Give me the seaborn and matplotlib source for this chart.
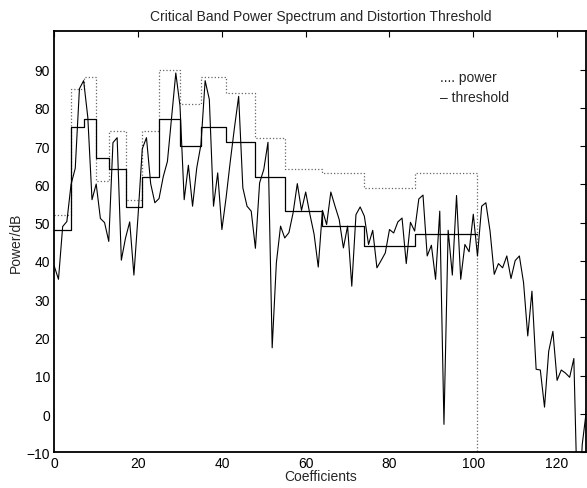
import matplotlib
matplotlib.use("Agg")
import matplotlib.pyplot as plt
import pandas as pd
import seaborn as sns

# spectrum power per coefficient (dB)
spectrum = [38.6, 35.2, 49, 50.3, 60, 64.2, 85, 87.1, 77.5, 56,
            60.1, 51.1, 50, 45.1, 70.9, 72.2, 40.2, 46, 50.2, 36.3,
            52, 69.3, 72.2, 60.2, 55.2, 56.3, 62, 66, 77.5, 89.1,
            80.5, 56, 65, 54.3, 64.3, 70.4, 87.1, 82.2, 54.3, 63,
            48.2, 56.5, 66, 74.8, 83, 59.1, 54.3, 53, 43.3, 60.4,
            63.9, 71, 17.3, 39.5, 49.1, 46, 47.4, 52.6, 60.2, 53.2,
            58, 52.2, 47, 38.4, 53.2, 49.5, 58, 54.3, 50.8, 43.4,
            49.1, 33.4, 52.1, 54.1, 51.7, 44.3, 48, 38.2, 40.1, 42.1,
            48.2, 47.3, 50.2, 51.2, 39.3, 50.1, 47.8, 56.2, 57.2, 41.3,
            44.1, 35.2, 53, -2.7, 48, 36.3, 57.1, 35.2, 44.3, 42.4,
            52.2, 41.3, 54.3, 55.2, 47.8, 36.5, 39.3, 38.2, 41.3, 35.4,
            40.1, 41.3, 34.3, 20.4, 32.1, 11.7, 11.5, 1.8, 16.4, 21.6,
            8.8, 11.5, 10.7, 9.6, 14.5, -30, -8, 1]

# critical band edges and per-band levels (last entry = value after band 101)
band_edges = [0, 4, 7, 10, 13, 17, 21, 25, 30, 35, 41, 48, 55, 64, 74, 86, 101]
band_power = [52, 85, 88, 61, 74, 56, 74, 90, 81, 88, 84, 72, 64, 63, 59, 63, -100]
band_threshold = [48, 75, 77, 67, 64, 54, 62, 77, 70, 75, 71, 62, 53, 49, 44, 47, 47]

x_ticks = [0, 20, 40, 60, 80, 100, 120]
y_ticks = [-10, 0, 10, 20, 30, 40, 50, 60, 70, 80, 90]


def main():
    sns.set_theme(style="white")
    plt.rcParams['font.family'] = ['Liberation Sans', 'DejaVu Sans']

    spec = pd.DataFrame({'coef': range(len(spectrum)), 'power': spectrum})
    bands = pd.DataFrame({'edge': band_edges, 'power': band_power,
                          'threshold': band_threshold})

    fig = plt.figure(figsize=(5.87, 4.89), dpi=100)
    ax = fig.add_axes([0.0925, 0.073, 0.9065, 0.861])

    sns.lineplot(data=bands, x='edge', y='power', ax=ax, estimator=None,
                 drawstyle='steps-post', color='0.4', linestyle=':', lw=0.9)
    sns.lineplot(data=bands, x='edge', y='threshold', ax=ax, estimator=None,
                 drawstyle='steps-post', color='black', lw=0.9)
    sns.lineplot(data=spec, x='coef', y='power', ax=ax, estimator=None,
                 color='black', lw=0.8)

    ax.set_xlim(0, 127)
    ax.set_ylim(-10, 100)
    ax.set_xticks(x_ticks)
    ax.set_yticks(y_ticks)
    ax.tick_params(direction='in', top=True, right=True, length=4,
                   width=0.8, labelsize=10, pad=3, colors='black')
    for s in ax.spines.values():
        s.set_linewidth(1.3)
        s.set_color('black')

    ax.set_title('Critical Band Power Spectrum and Distortion Threshold',
                 fontsize=10, pad=8)
    ax.set_xlabel('Coefficients', fontsize=10, labelpad=-1)
    ax.set_ylabel('Power/dB', fontsize=10, labelpad=3)

    ax.text(0.725, 0.892, '.... power', transform=ax.transAxes,
            fontsize=10, va='center')
    ax.text(0.725, 0.843, '\u2013 threshold', transform=ax.transAxes,
            fontsize=10, va='center')

    fig.savefig('out.png', dpi=100)


if __name__ == '__main__':
    main()
